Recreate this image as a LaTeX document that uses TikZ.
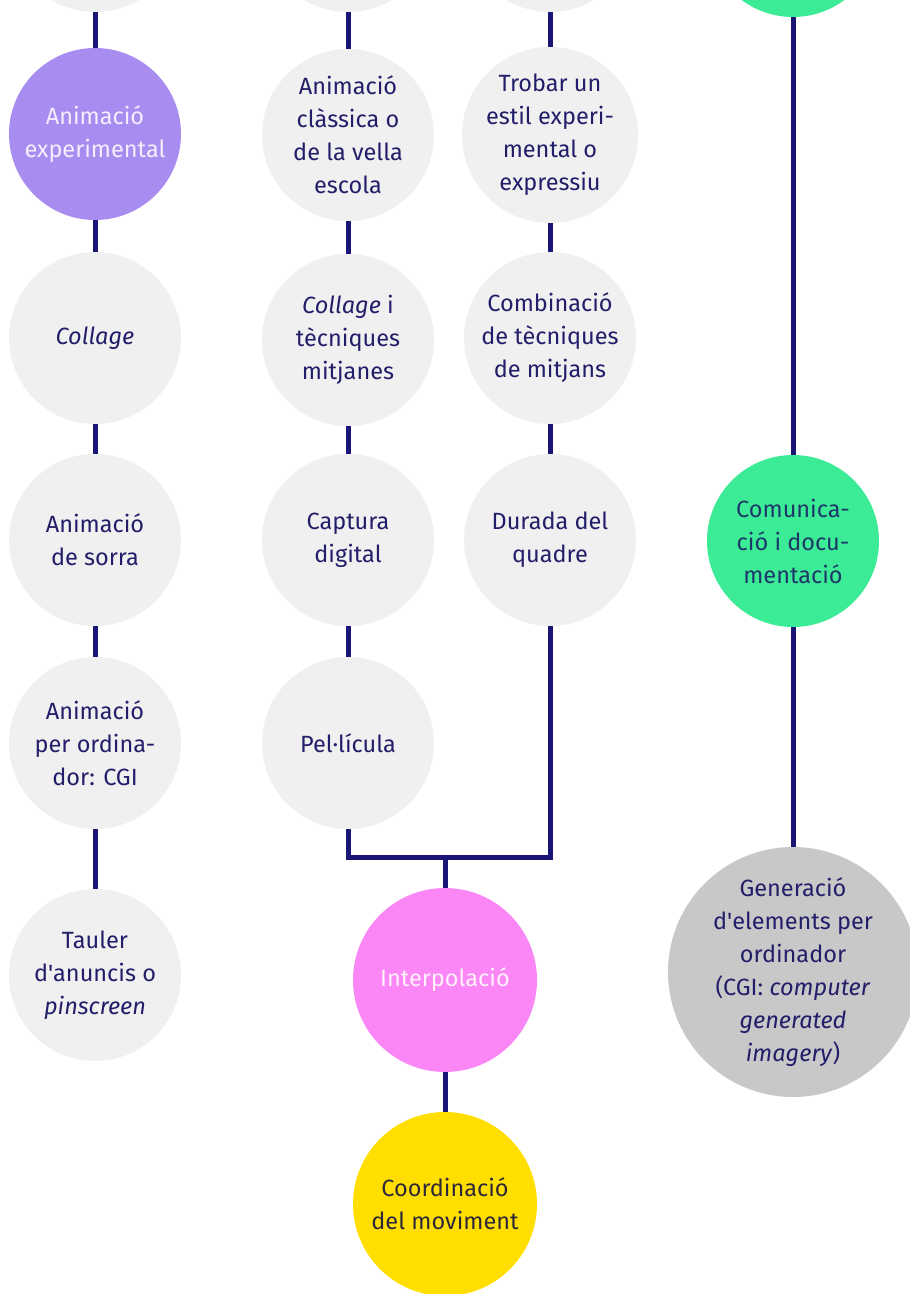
\documentclass[tikz,border=0pt]{standalone}
\usepackage{fontspec}
\setmainfont{Fira Sans}
\definecolor{linia}{RGB}{25,22,120}
\definecolor{textfosc}{RGB}{35,30,105}
\definecolor{grisclar}{RGB}{240,240,240}
\definecolor{grismig}{RGB}{200,200,200}
\definecolor{lila}{RGB}{168,140,240}
\definecolor{verd}{RGB}{60,235,150}
\definecolor{rosa}{RGB}{250,135,245}
\definecolor{groc}{RGB}{255,222,0}
\begin{document}
\begin{tikzpicture}[x=1pt,y=-1pt, line join=round,
	bola/.style={circle,fill=grisclar,minimum size=172pt,inner sep=0pt,align=center,
		text=textfosc,font=\fontsize{23.5}{33}\selectfont},
	gran/.style={bola,minimum size=184pt},
	uneix/.style={draw=linia,line width=5pt}]
	\def\ca{95} \def\cb{348} \def\cc{550} \def\cd{793}
	\useasboundingbox (0,0) rectangle (910,1294);
	\clip (0,0) rectangle (910,1294);
	% columna 1
	\node[bola] (dalta) at (\ca,-74) {};
	\node[bola,fill=lila,text={rgb,255:red,245;green,238;blue,255}] (expe) at (\ca,134) {Animació\\experimental};
	\node[bola] (collage) at (\ca,338) {\textit{Collage}};
	\node[bola] (sorra) at (\ca,540) {Animació\\de sorra};
	\node[bola] (ordin) at (\ca,743) {Animació\\per ordina-\\dor: CGI};
	\node[bola] (tauler) at (\ca,975) {Tauler\\d\textquotesingle anuncis o\\\textit{pinscreen}};
	% columna 2
	\node[bola] (daltb) at (\cb,-74) {};
	\node[bola] (classica) at (\cb,135) {Animació\\clàssica o\\de la vella\\escola};
	\node[bola] (tecniques) at (\cb,340) {\textit{Collage} i\\tècniques\\mitjanes};
	\node[bola] (captura) at (\cb,540) {Captura\\digital};
	\node[bola] (pelicula) at (\cb,743) {Pel·lícula};
	% columna 3
	\node[bola] (daltc) at (\cc,-74) {};
	\node[bola] (estil) at (\cc,135) {Trobar un\\estil experi-\\mental o\\expressiu};
	\node[bola] (combina) at (\cc,338) {Combinació\\de tècniques\\de mitjans};
	\node[bola] (durada) at (\cc,540) {Durada del\\quadre};
	% columna 4
	\node[bola,fill=verd] (daltd) at (\cd,-69) {};
	\node[bola,fill=verd,text={rgb,255:red,30;green,55;blue,105}] (comunica) at (\cd,541) {Comunica-\\ció i docu-\\mentació};
	\node[bola,fill=grismig,minimum size=250pt] (cgi) at (\cd,972) {Generació\\d\textquotesingle elements per\\ordinador\\(CGI: \textit{computer}\\\textit{generated}\\\textit{imagery})};
	% centre
	\node[gran,fill=rosa,text={rgb,255:red,255;green,240;blue,252}] (interp) at (445,980) {Interpolació};
	\node[gran,fill=groc,text={rgb,255:red,45;green,40;blue,55}] (coord) at (445,1204) {Coordinació\\del moviment};
	\coordinate (unio) at (445,857);
	% connexions
	\draw[uneix] (dalta)--(expe) (expe)--(collage) (collage)--(sorra) (sorra)--(ordin) (ordin)--(tauler);
	\draw[uneix] (daltb)--(classica) (classica)--(tecniques) (tecniques)--(captura) (captura)--(pelicula);
	\draw[uneix] (daltc)--(estil) (estil)--(combina) (combina)--(durada);
	\draw[uneix] (daltd)--(comunica) (comunica)--(cgi);
	\draw[uneix,line join=miter] (pelicula) |- (unio) -| (durada);
	\draw[uneix] (unio)--(interp) (interp)--(coord);
\end{tikzpicture}
\end{document}
